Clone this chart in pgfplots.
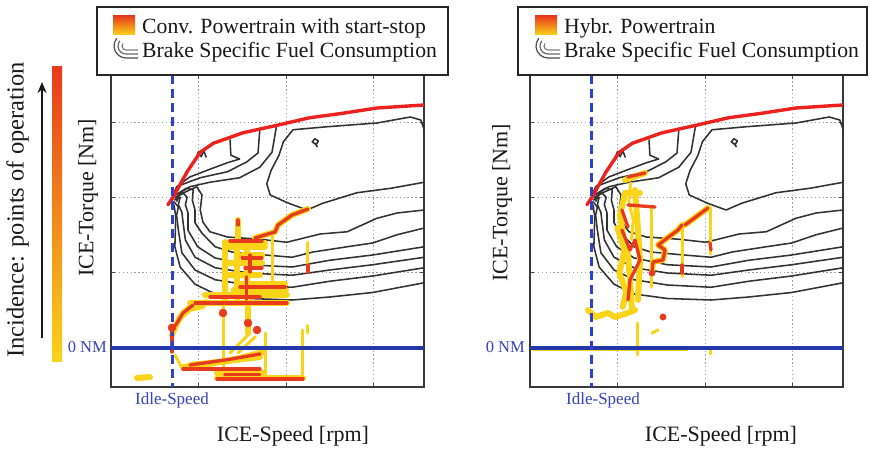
\documentclass[border=0pt]{standalone}
\usepackage{fontspec}
\setmainfont{Liberation Serif}
\usepackage{pgfplots}
\pgfplotsset{compat=1.18}
\usetikzlibrary{arrows.meta}

\definecolor{opy}{RGB}{250,212,25}
\definecolor{opr}{RGB}{232,58,28}
\definecolor{opo}{RGB}{243,135,25}
\definecolor{flred}{RGB}{236,34,30}
\definecolor{idleblue}{RGB}{45,65,205}
\definecolor{zeroblue}{RGB}{35,55,170}
\definecolor{ctrgray}{RGB}{50,50,50}
\definecolor{lblblue}{RGB}{55,65,185}

\newcommand\fs[1]{\fontsize{#1}{#1}\selectfont}

\pgfplotsset{
  opY/.style={color=opy, line width=6pt, line cap=round, line join=round},
  opR/.style={color=opr, line width=3.3pt, line cap=round, line join=round},
  opT/.style={color=opy, line width=3pt, line cap=round},
  ctr/.style={color=ctrgray, line width=1.55pt, line join=round},
  panel/.style={
    scale only axis, width=313pt, height=312pt, anchor=south west,
    xmin=0, xmax=3.577, ymin=-0.52, ymax=3.64,
    xtick={1,2,3}, ytick={1,2,3}, xticklabels={}, yticklabels={},
    grid=major,
    major grid style={gray!75, line width=1pt, dash pattern=on 1.3pt off 2.6pt},
    major tick length=4pt, tick style={black!70, line width=1pt},
    axis line style={black!78, line width=1.5pt},
  }
}

% BSFC contour map (same engine in both panels)
\newcommand\contours{%
  \addplot[ctr] coordinates {(3.58,2.91) (3.54,3.04) (3.42,3.08) (3.04,3.00) (2.47,2.95) (2.08,2.91) (1.97,2.75) (1.92,2.57) (1.83,2.37) (1.78,2.19) (1.82,2.04) (2.03,1.93) (2.24,1.84) (2.42,1.93) (2.81,2.07) (3.20,2.13) (3.58,2.21)};
  \addplot[ctr] coordinates {(1.36,2.78) (1.37,2.57) (1.47,2.52) (1.33,2.47) (1.10,2.37) (0.90,2.28) (0.75,2.15) (0.71,2.04)};
  \addplot[ctr] coordinates {(1.70,2.90) (1.68,2.60) (1.55,2.48) (1.33,2.35) (1.02,2.27) (0.79,2.17) (0.73,2.04)};
  \addplot[ctr] coordinates {(1.89,2.95) (1.84,2.61) (1.70,2.41) (1.47,2.27) (1.13,2.21) (0.90,2.15) (0.79,2.07) (0.75,1.95)};
  \addplot[ctr] coordinates {(0.73,2.00) (0.85,2.08) (0.98,2.15) (1.04,2.04) (1.02,1.84) (1.05,1.68) (1.13,1.55) (1.33,1.48) (1.70,1.45) (2.01,1.41) (2.39,1.52) (2.70,1.55) (3.04,1.73) (3.27,1.80) (3.58,1.84)};
  \addplot[ctr] coordinates {(0.74,2.04) (0.86,2.13) (0.94,2.11) (0.93,1.97) (0.96,1.84) (0.96,1.67) (1.04,1.53) (1.19,1.35) (1.38,1.28) (1.76,1.24) (2.07,1.21) (2.31,1.28) (2.70,1.35) (2.99,1.40) (3.27,1.51) (3.58,1.60)};
  \addplot[ctr] coordinates {(0.73,2.00) (0.82,2.07) (0.87,2.01) (0.85,1.91) (0.88,1.80) (0.88,1.57) (0.99,1.35) (1.19,1.20) (1.57,1.11) (2.07,1.08) (2.50,1.17) (2.99,1.24) (3.58,1.35)};
  \addplot[ctr] coordinates {(0.72,1.97) (0.79,2.01) (0.77,1.91) (0.81,1.81) (0.82,1.71) (0.85,1.44) (0.96,1.21) (1.19,1.07) (1.57,1.00) (2.07,0.97) (2.50,1.04) (2.99,1.11) (3.58,1.21)};
  \addplot[ctr] coordinates {(0.72,1.95) (0.77,1.88) (0.75,1.77) (0.77,1.57) (0.81,1.27) (0.96,1.04) (1.19,0.91) (1.57,0.84) (2.07,0.81) (2.50,0.89) (2.99,0.96) (3.58,1.07)};
  \addplot[ctr] coordinates {(0.72,1.91) (0.74,1.75) (0.73,1.35) (0.79,1.08) (0.96,0.85) (1.19,0.72) (1.57,0.66) (2.07,0.64) (2.50,0.68) (2.99,0.74) (3.58,0.87)};
  \addplot[ctr] coordinates {(2.36,2.68) (2.33,2.73) (2.35,2.72) (2.37,2.76) (2.33,2.79) (2.30,2.75) (2.33,2.72)};
  \addplot[ctr] coordinates {(0.97,2.52) (1.00,2.62) (1.03,2.55) (1.06,2.63) (1.09,2.54)};
}
\newcommand\fullload{%
  \addplot[flred, line width=3.4pt, line cap=round, line join=round] coordinates {(0.65,1.91) (0.71,2.01) (0.87,2.35) (1.02,2.61) (1.17,2.73) (1.51,2.87) (1.90,2.97) (2.27,3.07) (2.65,3.13) (3.04,3.20) (3.577,3.24)};
}
\newcommand\bluelines{%
  \addplot[zeroblue, line width=3.2pt] coordinates {(0,0) (3.577,0)};
  \addplot[idleblue, line width=3.2pt, dash pattern=on 9pt off 5pt] coordinates {(0.70,3.64) (0.70,-0.52)};
}

\begin{document}
\begin{tikzpicture}[x=1pt,y=1pt]
\path[use as bounding box] (0,0) rectangle (871,450);

% ---------------- left panel: conventional powertrain ----------------
\begin{axis}[panel, at={(111pt,63pt)}]
\contours
% operating points (yellow base)
\addplot[opY] coordinates {(1.451,1.707) (1.451,1.440)};
\addplot[opY] coordinates {(1.303,1.413) (1.303,0.640)};
\addplot[opY] coordinates {(1.440,1.333) (1.440,0.640)};
\addplot[opY] coordinates {(1.550,1.300) (1.550,0.600)};
\addplot[opT] coordinates {(1.851,1.547) (1.851,0.773)};
\addplot[opT] coordinates {(2.251,1.413) (2.251,1.013)};
\addplot[opT] coordinates {(1.280,0.600) (1.280,-0.427)};
\addplot[opY] coordinates {(1.566,0.573) (1.566,0.200)};
\addplot[opT] coordinates {(1.360,-0.067) (1.589,0.200)};
\addplot[opT] coordinates {(1.450,-0.067) (1.650,0.150)};
\addplot[opT] coordinates {(1.760,0.200) (1.760,-0.333)};
\addplot[opT] coordinates {(2.194,0.240) (2.194,-0.427)};
\addplot[opT] coordinates {(2.251,0.300) (2.251,0.200)};
\addplot[opY] coordinates {(0.297,-0.400) (0.446,-0.387)};
\addplot[opT] coordinates {(0.731,-0.093) (0.823,-0.293)};
\addplot[opY] coordinates {(1.326,1.400) (1.760,1.400)};
\addplot[opY] coordinates {(1.326,1.350) (1.760,1.350)};
\addplot[opY] coordinates {(1.500,1.240) (1.730,1.240)};
\addplot[opY] coordinates {(1.303,1.133) (1.726,1.133)};
\addplot[opY] coordinates {(1.303,0.973) (1.703,0.973)};
\addplot[opY] coordinates {(1.474,0.853) (1.989,0.853)};
\addplot[opY] coordinates {(1.400,0.770) (2.000,0.770)};
\addplot[opY] coordinates {(1.074,0.707) (2.011,0.707)};
\addplot[opY] coordinates {(0.903,0.600) (2.011,0.600)};
\addplot[opY] coordinates {(0.823,-0.253) (1.131,-0.213) (1.474,-0.133) (1.737,-0.053)};
\addplot[opY] coordinates {(0.903,-0.227) (1.360,-0.170) (1.703,-0.120)};
\addplot[opY] coordinates {(1.211,-0.400) (2.194,-0.400)};
\addplot[opY] coordinates {(1.211,-0.340) (1.750,-0.340)};
\addplot[opY] coordinates {(0.697,0.173) (0.754,0.333) (0.823,0.467) (0.937,0.573) (1.097,0.613)};
\addplot[opY] coordinates {(0.780,0.400) (0.900,0.520) (1.050,0.560)};
% operating points (red, high incidence)
\addplot[opY] coordinates {(1.646,1.467) (1.874,1.547) (1.909,1.640) (2.069,1.773) (2.251,1.853)};
\addplot[opR] coordinates {(1.646,1.467) (1.874,1.547) (1.909,1.640) (2.069,1.773) (2.251,1.853)};
\addplot[opR] coordinates {(1.451,1.707) (1.451,1.640)};
\addplot[opR] coordinates {(1.360,1.427) (1.726,1.427)};
\addplot[opR] coordinates {(1.497,1.200) (1.726,1.200)};
\addplot[opR] coordinates {(1.531,1.067) (1.726,1.067)};
\addplot[opR] coordinates {(1.589,1.240) (1.589,1.013)};
\addplot[opR] coordinates {(1.474,0.813) (1.989,0.813)};
\addplot[opR] coordinates {(1.550,0.950) (1.550,0.650)};
\addplot[opR] coordinates {(2.251,1.107) (2.251,1.013)};
\addplot[opR] coordinates {(0.960,0.600) (2.011,0.600)};
\addplot[opR] coordinates {(0.697,0.240) (0.754,0.333) (0.823,0.467) (0.937,0.573)};
\addplot[opR] coordinates {(0.823,-0.280) (1.703,-0.280)};
\addplot[opR] coordinates {(1.211,-0.413) (2.194,-0.413)};
\addplot[opR] coordinates {(1.300,-0.350) (1.700,-0.350)};
\addplot[opR] coordinates {(0.697,0.240) (0.697,-0.053)};
\addplot[opR] coordinates {(1.131,0.680) (1.703,0.680)};
\addplot[opR] coordinates {(0.903,-0.227) (1.360,-0.150) (1.703,-0.080)};
\addplot[only marks, mark=*, mark size=4pt, opr] coordinates {(1.280,0.467) (1.566,0.333) (1.669,0.240) (0.697,0.270)};
\fullload
\bluelines
\end{axis}

% ---------------- right panel: hybrid powertrain ----------------
\begin{axis}[panel, at={(530pt,63pt)}]
\contours
\addplot[opT] coordinates {(0.023,-0.015) (1.80,-0.015)};
\addplot[opR, line width=1.8pt] coordinates {(0.023,-0.02) (0.80,-0.02)};
\addplot[opY] coordinates {(1.086,2.067) (1.029,1.773) (1.063,1.507) (1.120,1.240) (1.143,0.907) (1.166,0.507)};
\addplot[opY] coordinates {(1.200,2.107) (1.234,1.573) (1.257,1.173) (1.234,0.640)};
\addplot[opY] coordinates {(1.000,1.600) (1.080,1.300) (1.020,1.000) (1.100,0.750) (1.060,0.550)};
\addplot[opT] coordinates {(1.150,2.200) (1.130,1.950) (1.180,1.700) (1.160,1.450)};
\addplot[opY] coordinates {(1.086,2.240) (1.314,2.333)};
\addplot[opT] coordinates {(1.394,1.880) (1.394,0.813)};
\addplot[opT] coordinates {(1.737,1.613) (1.737,0.950)};
\addplot[opT] coordinates {(2.057,1.867) (2.057,1.250)};
\addplot[opY] coordinates {(1.086,2.067) (1.257,2.067)};
\addplot[opY] coordinates {(0.663,0.507) (0.743,0.413) (0.891,0.467) (0.971,0.413) (1.120,0.467) (1.200,0.507)};
\addplot[opT] coordinates {(1.223,0.333) (1.223,-0.093)};
\addplot[opT] coordinates {(1.394,0.200) (1.463,0.240)};
\addplot[opT] coordinates {(2.057,-0.010) (2.057,-0.080)};
\addplot[opY] coordinates {(1.394,1.000) (1.406,1.147) (1.520,1.173) (1.543,1.307) (1.463,1.373) (1.691,1.573) (1.737,1.640)};
\addplot[opY] coordinates {(1.771,1.640) (2.034,1.867)};
\addplot[opR] coordinates {(1.120,2.280) (1.314,2.333)};
\addplot[opR] coordinates {(1.051,1.840) (1.120,1.613)};
\addplot[opR] coordinates {(1.120,1.907) (1.429,1.880)};
\addplot[opR] coordinates {(1.051,1.573) (1.143,1.307) (1.200,1.440) (1.257,1.173) (1.143,0.907) (1.120,0.640)};
\addplot[opR] coordinates {(1.394,1.000) (1.406,1.147) (1.520,1.173) (1.543,1.307) (1.463,1.373) (1.691,1.573) (1.737,1.640)};
\addplot[opR] coordinates {(1.771,1.640) (2.034,1.867)};
\addplot[opR] coordinates {(2.057,1.400) (2.069,1.307)};
\addplot[opR] coordinates {(1.737,1.107) (1.737,1.000)};
\addplot[only marks, mark=*, mark size=3.2pt, opr] coordinates {(1.520,0.413) (1.394,1.000)};
\fullload
\bluelines
\end{axis}

% ---------------- legends ----------------
\begin{scope}[line width=1.3pt]
\draw[black!85, fill=white] (97,375) rectangle (448,443);
\draw[black!85, fill=white] (518,375) rectangle (867,443);
\end{scope}
\shade[top color=opr, middle color=opo, bottom color=opy] (113,415) rectangle (135,434);
\shade[top color=opr, middle color=opo, bottom color=opy] (535,415) rectangle (557,434);
\foreach \ox in {0,422}{
  \foreach \r/\g in {4/50,8/60,12/70}{
    \draw[black!\g, line width=1.2pt] ({\ox+126-\r*cos(40)},{404+\r*sin(40)}) arc[start angle=140, end angle=270, radius=\r] -- ({\ox+138},{404-\r});
  }
}
\node[anchor=base west, inner sep=0, text=black!90] at (142,416) {\fs{21.7}Conv. Powertrain with start-stop};
\node[anchor=base west, inner sep=0, text=black!90] at (142,392) {\fs{21.7}Brake Specific Fuel Consumption};
\node[anchor=base west, inner sep=0, text=black!90] at (564,416) {\fs{21.7}Hybr. Powertrain};
\node[anchor=base west, inner sep=0, text=black!90] at (564,392) {\fs{21.7}Brake Specific Fuel Consumption};

% ---------------- colour bar and arrow ----------------
\shade[top color=opr, middle color=opo, bottom color=opy] (52,88) rectangle (62,383);
\draw[-{Stealth[length=11pt,width=9pt]}, line width=2.4pt, black!90] (42,112) -- (42,368);
\node[rotate=90, inner sep=0, text=black!90] at (17.5,240) {\fs{24.5}Incidence: points of operation};

% ---------------- axis titles and labels ----------------
\node[rotate=90, inner sep=0, text=black!90] at (88,252) {\fs{22}ICE-Torque [Nm]};
\node[rotate=90, inner sep=0, text=black!90] at (502,247) {\fs{22}ICE-Torque [Nm]};
\node[anchor=base, inner sep=0, text=black!90] at (293,8) {\fs{22}ICE-Speed [rpm]};
\node[anchor=base, inner sep=0, text=black!90] at (721,8) {\fs{22}ICE-Speed [rpm]};
\node[anchor=base, inner sep=0, text=lblblue] at (172,45) {\fs{17}Idle-Speed};
\node[anchor=base, inner sep=0, text=lblblue] at (603,45) {\fs{17}Idle-Speed};
\node[anchor=base east, inner sep=0, text=lblblue] at (107,97) {\fs{16.5}0 NM};
\node[anchor=base east, inner sep=0, text=lblblue] at (525,97) {\fs{16.5}0 NM};
\end{tikzpicture}
\end{document}
